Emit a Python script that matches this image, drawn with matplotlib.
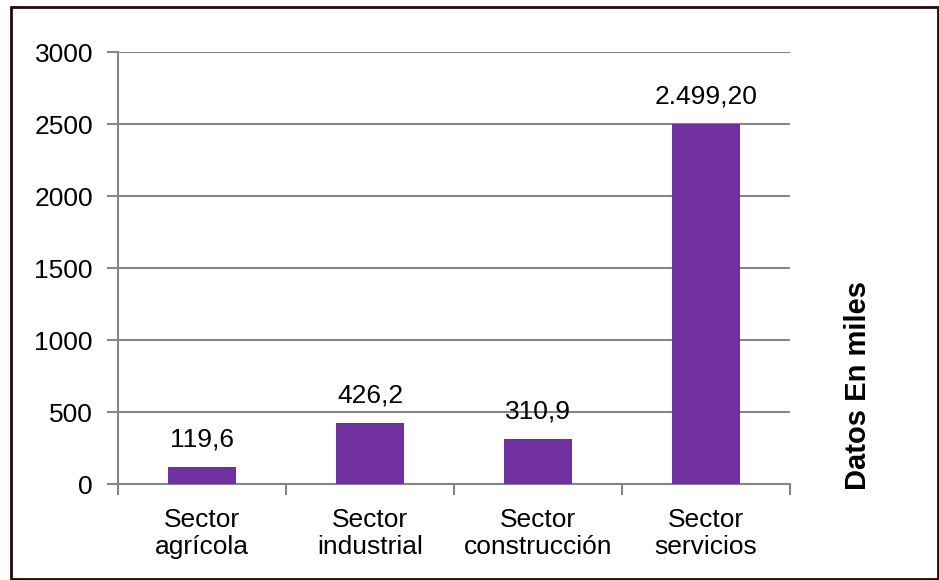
import matplotlib.pyplot as plt
from matplotlib.patches import Rectangle

plt.rcParams['font.family'] = ['Liberation Sans', 'DejaVu Sans']

categories = ['Sector\nagrícola', 'Sector\nindustrial', 'Sector\nconstrucción', 'Sector\nservicios']
values = [119.6, 426.2, 310.9, 2499.2]
value_labels = ['119,6', '426,2', '310,9', '2.499,20']
yticks = [0, 500, 1000, 1500, 2000, 2500, 3000]

W, H = 939, 580
fig = plt.figure(figsize=(W / 100, H / 100), dpi=100)
fig.patch.set_facecolor('white')

# outer frame
fig.add_artist(Rectangle((11 / W, 1 - 579 / H), 927 / W, 572 / H, transform=fig.transFigure,
                         fill=False, edgecolor='#200a0a', linewidth=2))

ax = fig.add_axes([118 / W, 1 - 484 / H, 672 / W, 432 / H])
x = range(len(categories))
ax.bar(x, values, width=0.4, color='#7030A0', zorder=3)
for xi, v, lab in zip(x, values, value_labels):
    ax.annotate(lab, (xi, v), xytext=(0, 11), textcoords='offset points',
                ha='center', va='bottom', fontsize=19)

ax.set_xlim(-0.5, len(categories) - 0.5)
ax.set_ylim(0, 3000)
ax.set_yticks(yticks)
ax.set_yticklabels([str(t) for t in yticks], fontsize=19)
ax.set_xticks(list(x))
ax.set_xticklabels(categories, fontsize=19, linespacing=1.16)
ax.tick_params(axis='x', length=0, pad=17)
ax.set_xticks([i - 0.5 for i in range(len(categories) + 1)], minor=True)
ax.tick_params(axis='x', which='minor', length=8, width=1.5, color='#868686')
ax.tick_params(axis='y', length=8, width=1.5, color='#868686', pad=10)
ax.grid(axis='y', color='#868686', linewidth=1.5, zorder=0)
for s in ['top', 'right']:
    ax.spines[s].set_visible(False)
for s in ['left', 'bottom']:
    ax.spines[s].set_color('#868686')
    ax.spines[s].set_linewidth(1.5)

fig.text(858 / W, 1 - 386 / H, 'Datos En miles', rotation=90, ha='center', va='center',
         fontsize=21, fontweight='bold')

fig.savefig('out.png', dpi=100, facecolor='white')
